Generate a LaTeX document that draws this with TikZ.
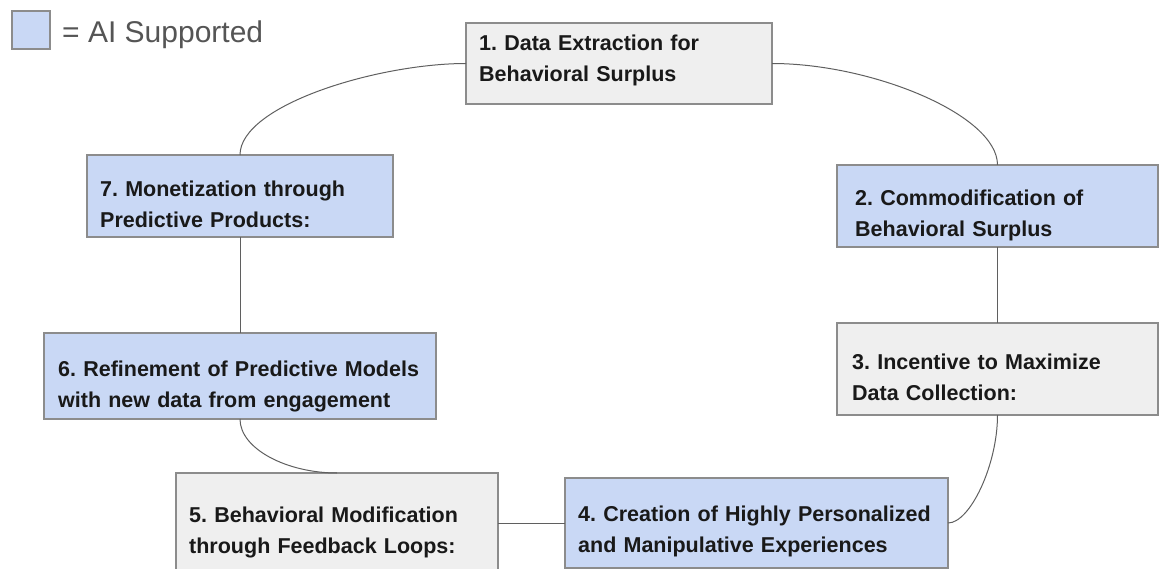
\documentclass[tikz,border=0pt]{standalone}
\usepackage{fontspec}
\setmainfont{Liberation Sans}
\frenchspacing
\definecolor{aiblue}{RGB}{201,216,245}
\definecolor{plaingray}{RGB}{239,239,239}
\definecolor{boxline}{RGB}{140,140,140}
\definecolor{linkc}{RGB}{95,95,95}
\definecolor{txt}{RGB}{25,25,25}
\definecolor{legtxt}{RGB}{85,85,85}
\begin{document}
\begin{tikzpicture}[x=1pt,y=-1pt,
  box/.style={draw=boxline, line width=1.2pt, inner sep=0pt, outer sep=0pt},
  ai/.style={box, fill=aiblue},
  plain/.style={box, fill=plaingray},
  lbl/.style={anchor=base west, inner sep=0pt, align=left, text width=400pt,
    font=\bfseries\fontsize{21.5}{31}\selectfont\frenchspacing, text=txt},
  link/.style={draw=linkc, line width=1pt}]
\useasboundingbox (0,0) rectangle (1161,569);
% legend
\node[ai, minimum width=38pt, minimum height=38pt] (leg) at (31,30) {};
\node[anchor=base west, inner sep=0pt, text=legtxt, font=\fontsize{30}{36}\selectfont] (legt) at (62,43) {= AI Supported};
% boxes
\node[plain, minimum width=306pt, minimum height=81pt] (b1) at (619,63.5) {};
\node[ai,    minimum width=321pt, minimum height=82pt] (b2) at (997.5,206) {};
\node[plain, minimum width=321pt, minimum height=92pt] (b3) at (997.5,369) {};
\node[ai,    minimum width=383pt, minimum height=90pt] (b4) at (756.5,523) {};
\node[plain, minimum width=322pt, minimum height=100pt] (b5) at (337,523) {};
\node[ai,    minimum width=392pt, minimum height=86pt] (b6) at (240,376) {};
\node[ai,    minimum width=306pt, minimum height=82pt] (b7) at (240,196) {};
% labels
\node[lbl] (t1) at (479,50.5)  {1. Data Extraction for\\Behavioral Surplus};
\node[lbl] (t2) at (855,205.5) {2. Commodification of\\Behavioral Surplus};
\node[lbl] (t3) at (852,369)   {3. Incentive to Maximize\\Data Collection:};
\node[lbl] (t4) at (578,521)   {4. Creation of Highly Personalized\\and Manipulative Experiences};
\node[lbl] (t5) at (189,522.5) {5. Behavioral Modification\\through Feedback Loops:};
\node[lbl] (t6) at (58,376)    {6. Refinement of Predictive Models\\with new data from engagement};
\node[lbl] (t7) at (100,196.5) {7. Monetization through\\Predictive Products:};
% connectors
\draw[link] (b1.west) .. controls +(-88,0) and +(0,-50) .. (b7.north);
\draw[link] (b1.east) .. controls +(100,0) and +(0,-50) .. (b2.north);
\draw[link] (b2.south) -- (b3.north);
\draw[link] (b3.south) .. controls +(0,50) and +(22,0) .. (b4.east);
\draw[link] (b4.west) -- (b5.east);
\draw[link] (b6.south) .. controls +(0,30) and +(-50,0) .. (b5.north);
\draw[link] (b6.north) -- (b7.south);
\end{tikzpicture}
\end{document}
